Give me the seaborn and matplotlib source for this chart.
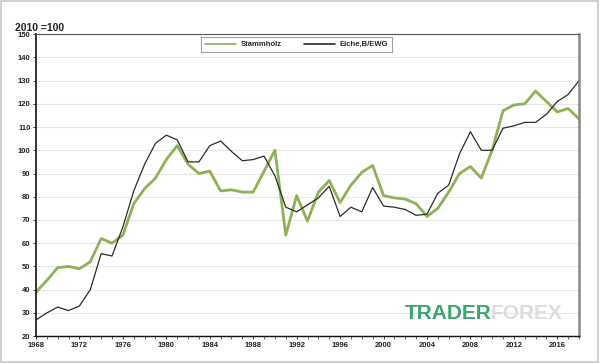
import pandas as pd
import matplotlib.pyplot as plt
import seaborn as sns
import matplotlib.patches as mpatches

years = list(range(1968, 2019))

stammholz = [39, 44, 49.5, 50, 49, 52, 62, 60, 63.5, 77,
             83.5, 88, 96, 102, 94, 90, 91, 82.5, 83, 82,
             82, 91, 100, 63.5, 80.5, 69.5, 82, 87, 77.5, 85,
             90.5, 93.5, 80.5, 79.5, 79, 77, 71.5, 75, 82, 90,
             93, 88, 100, 117, 119.5, 120, 125.5, 121, 116.5, 118,
             113.5]

eiche = [27, 30, 32.5, 31, 33, 40, 55.5, 54.5, 67, 82.5,
         94, 103, 106.5, 104.5, 95, 95, 102, 104, 99.5, 95.5,
         96, 97.5, 89, 75.5, 73.5, 76.5, 79.5, 84.5, 71.5, 75.5,
         73.5, 84, 76, 75.5, 74.5, 72, 72.5, 81.5, 85, 98.5,
         108, 100, 100, 109.5, 110.5, 112, 112, 115.5, 121, 124,
         130]

series_names = ["Stammholz", "Eiche,B/EWG"]
y_ticks = list(range(20, 151, 10))
x_ticks = list(range(1968, 2019, 4))

df = pd.DataFrame({
    "Jahr": years * 2,
    "Index": stammholz + eiche,
    "Serie": [series_names[0]] * len(years) + [series_names[1]] * len(years),
})

sns.set_theme(style="white")
plt.rcParams['font.family'] = ['Liberation Sans', 'DejaVu Sans']

fig = plt.figure(figsize=(6, 3.63), dpi=100)
ax = fig.add_axes([0.06, 0.074, 0.905, 0.832])

colors = {"Stammholz": "#8db255", "Eiche,B/EWG": "#2b2b2b"}
widths = {"Stammholz": 2.0, "Eiche,B/EWG": 0.9}
for name in series_names:
    sns.lineplot(data=df[df["Serie"] == name], x="Jahr", y="Index",
                 color=colors[name], linewidth=widths[name], label=name, ax=ax)

ax.set_xlim(1968, 2018)
ax.set_ylim(20, 150)
ax.set_yticks(y_ticks)
ax.set_xticks(x_ticks)
ax.set_xticks(years, minor=True)
ax.set_xlabel("")
ax.set_ylabel("")
ax.yaxis.grid(True, color="#e8e8e8", linewidth=0.8)
ax.tick_params(axis="both", labelsize=5.5, length=2, width=0.6, pad=2, color="#222222")
ax.tick_params(axis="x", which="minor", length=2, width=0.5, bottom=True, color="#222222")
ax.tick_params(axis="x", which="major", bottom=True)
ax.tick_params(axis="y", left=True)
for lab in ax.get_xticklabels() + ax.get_yticklabels():
    lab.set_fontweight("bold")
    lab.set_color("#222222")

ax.spines["left"].set_color("#111111")
ax.spines["left"].set_linewidth(1.2)
ax.spines["bottom"].set_color("#111111")
ax.spines["bottom"].set_linewidth(1.0)
ax.spines["top"].set_color("#555555")
ax.spines["top"].set_linewidth(0.8)
ax.spines["right"].set_color("#888888")
ax.spines["right"].set_linewidth(1.8)

leg = ax.legend(loc="upper center", bbox_to_anchor=(0.48, 0.995), ncol=2,
                fontsize=5.5, frameon=True, fancybox=False, handlelength=4,
                columnspacing=3, borderpad=0.5, handletextpad=0.6,
                borderaxespad=0.2)
leg.get_frame().set_edgecolor("#888888")
leg.get_frame().set_linewidth(0.8)
for line in leg.get_lines():
    line.set_linewidth(1.2)
for t in leg.get_texts():
    t.set_fontweight("bold")

fig.text(0.025, 0.915, "2010 =100", fontsize=7.5, fontweight="bold", color="#222222")

# watermark
fig.text(0.675, 0.137, "TRADER", fontsize=15, fontweight="bold", color="#3aa56c", va="center")
fig.text(0.818, 0.137, "FOREX", fontsize=15, fontweight="bold", color="#dddddd", va="center")

# thin frame around the whole picture
fig.patches.append(mpatches.Rectangle((0.002, 0.003), 0.994, 0.994, transform=fig.transFigure,
                                      fill=False, edgecolor="#c8c8c8", linewidth=1.2))

fig.savefig("out.png", dpi=100)
